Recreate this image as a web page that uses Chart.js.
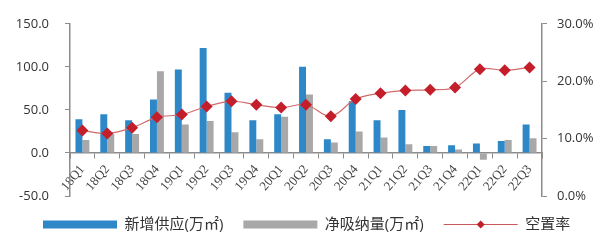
<!DOCTYPE html>
<html><head><meta charset="utf-8">
<script src="https://cdn.jsdelivr.net/npm/chart.js@4"></script>
<style>html,body{margin:0;padding:0;background:#fff}#wrap{width:600px;height:247px}</style>
</head><body><div id="wrap"><canvas id="c" width="600" height="247"></canvas></div>
<script>
const categories = ['18Q1','18Q2','18Q3','18Q4','19Q1','19Q2','19Q3','19Q4','20Q1','20Q2','20Q3','20Q4','21Q1','21Q2','21Q3','21Q4','22Q1','22Q2','22Q3'];
const newSupply = [39,45,38,62,97,122,70,38,45,100,16,60,38,50,8,9,11,14,33];
const netAbsorption = [15,22,22,95,33,37,24,16,42,68,12,25,18,10,8,4,-8,15,17];
const vacancyRate = [11.4,10.9,11.9,13.7,14.2,15.6,16.5,15.9,15.4,15.9,13.9,16.9,17.9,18.4,18.5,18.9,22.1,21.9,22.4];
const leftTicks = [-50,0,50,100,150];
const rightTicks = [0,10,20,30];

const FONT = '"Open Sans","Noto Sans CJK SC",sans-serif';
const LEGEND_X_SHIFT = 23;
const LEGEND_Y_SHIFT = 1;
const LEGEND_HEIGHT = 51;

const legendLinePlugin = {
  id: 'legendLine',
  afterInit(chart) {
    const lg = chart.legend;
    if (!lg || lg._patched) return;
    const origFit = lg.fit.bind(lg);
    lg.fit = function () { origFit(); this.height = LEGEND_HEIGHT; };
    lg._patched = true;
  },
  afterLayout(chart) {
    const lg = chart.legend;
    if (!lg) return;
    lg.left += LEGEND_X_SHIFT; lg.right += 40;
    lg.top += LEGEND_Y_SHIFT; lg.bottom += LEGEND_Y_SHIFT + 4;
  },
  afterDraw(chart) {
    const lg = chart.legend;
    if (!lg || !lg.legendHitBoxes[2]) return;
    const h = lg.legendHitBoxes[2];
    const bw = lg.options.labels.boxWidth;
    const cy = h.top + 7.5;
    const ctx = chart.ctx;
    ctx.save();
    ctx.strokeStyle = '#c9585c';
    ctx.lineWidth = 1;
    ctx.beginPath();
    ctx.moveTo(h.left, cy); ctx.lineTo(h.left + bw, cy);
    ctx.stroke();
    const cx = h.left + bw / 2, r = 4;
    ctx.fillStyle = '#c41e2a';
    ctx.beginPath();
    ctx.moveTo(cx - r, cy); ctx.lineTo(cx, cy - r); ctx.lineTo(cx + r, cy); ctx.lineTo(cx, cy + r);
    ctx.closePath(); ctx.fill();
    ctx.restore();
  }
};

new Chart(document.getElementById('c'), {
  data: {
    labels: categories,
    datasets: [
      { type: 'line', label: '空置率', data: vacancyRate, yAxisID: 'y1', order: 0,
        borderColor: '#d06a6a', borderWidth: 1.2, tension: 0.35,
        pointStyle: 'rectRot', pointRadius: 6, pointBackgroundColor: '#c41e2a', pointBorderColor: '#c41e2a', pointBorderWidth: 0 },
      { type: 'bar', label: '新增供应(万㎡)', data: newSupply, yAxisID: 'y', order: 1,
        backgroundColor: '#2e88c8', categoryPercentage: 0.56, barPercentage: 1.0 },
      { type: 'bar', label: '净吸纳量(万㎡)', data: netAbsorption, yAxisID: 'y', order: 1,
        backgroundColor: '#a8a8a8', categoryPercentage: 0.56, barPercentage: 1.0 }
    ]
  },
  options: {
    responsive: false, animation: false, devicePixelRatio: 1,
    layout: { padding: { top: 20, bottom: 0, left: 0, right: 0 } },
    plugins: {
      tooltip: { enabled: false },
      legend: {
        position: 'bottom', align: 'start',
        labels: {
          boxWidth: 74, boxHeight: 8, padding: 20,
          color: '#333', font: { family: FONT, size: 15 },
          generateLabels(chart) {
            const ds = chart.data.datasets;
            return [
              { text: ds[1].label, fillStyle: ds[1].backgroundColor, strokeStyle: ds[1].backgroundColor, lineWidth: 0, datasetIndex: 1, fontColor: '#333' },
              { text: ds[2].label, fillStyle: ds[2].backgroundColor, strokeStyle: ds[2].backgroundColor, lineWidth: 0, datasetIndex: 2, fontColor: '#333' },
              { text: ds[0].label, fillStyle: 'rgba(0,0,0,0)', strokeStyle: 'rgba(0,0,0,0)', lineWidth: 0, datasetIndex: 0, fontColor: '#333' }
            ];
          }
        }
      }
    },
    scales: {
      x: {
        type: 'category', position: { y: 0 }, offset: true,
        grid: { drawOnChartArea: false, drawTicks: true, tickLength: 5, color: '#8c8c8c', offset: true },
        border: { color: '#8c8c8c', width: 1.5 },
        ticks: { autoSkip: false, minRotation: 50, maxRotation: 50, padding: 4, color: '#444', font: { family: '"Liberation Serif","DejaVu Serif",serif', size: 13 } },
        afterFit(s) { s.height = 0; }
      },
      y: {
        type: 'linear', position: 'left', min: -50, max: 150,
        afterBuildTicks(s) { s.ticks = leftTicks.map(v => ({ value: v })); },
        grid: { drawOnChartArea: false, drawTicks: true, tickLength: 5, color: '#8c8c8c' },
        border: { color: '#8c8c8c', width: 1.5 },
        ticks: { padding: 16, color: '#333', font: { family: FONT, size: 13 }, callback: v => v.toFixed(1) },
        afterFit(s) { s.width = 70; }
      },
      y1: {
        type: 'linear', position: 'right', min: 0, max: 30,
        afterBuildTicks(s) { s.ticks = rightTicks.map(v => ({ value: v })); },
        grid: { drawOnChartArea: false, drawTicks: true, tickLength: 5, color: '#8c8c8c' },
        border: { color: '#8c8c8c', width: 1.5 },
        ticks: { padding: 10, color: '#333', font: { family: FONT, size: 13 }, callback: v => v.toFixed(1) + '%' },
        afterFit(s) { s.width = 58; }
      }
    }
  },
  plugins: [legendLinePlugin]
});
</script></body></html>
